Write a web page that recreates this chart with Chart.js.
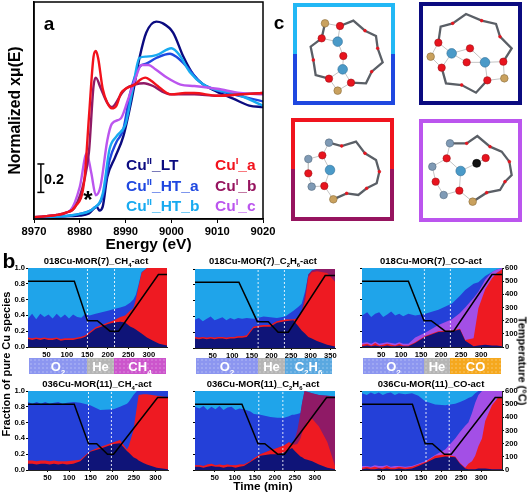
<!DOCTYPE html>
<html>
<head>
<meta charset="utf-8">
<script src="https://cdn.jsdelivr.net/npm/chart.js@4"></script>
<style>
  html, body { margin: 0; padding: 0; background: #fff; }
  #page { position: relative; width: 529px; height: 495px; overflow: hidden; font-family: "Liberation Sans", Arial, sans-serif; font-weight: bold; color: #000; }
  canvas { position: absolute; }
  .t { position: absolute; white-space: nowrap; transform: translate(-50%, -50%); line-height: 1; }
  .l { position: absolute; white-space: nowrap; transform: translateY(-50%); line-height: 1; font-size: 15.5px; }
  sup, sub { font-size: .62em; line-height: 0; }
  .box { position: absolute; box-sizing: border-box; border: 4px solid; background: #fff; }
  .gas { position: absolute; top: 358px; height: 16px; line-height: 17px; color: #fff; font-size: 13px; text-align: center;
         background-image: radial-gradient(rgba(255,255,255,.25) .6px, transparent .9px); background-size: 4px 4px; }
</style>
</head>
<body>
<div id="page">
  <!-- panel c frames sit under the structure canvas -->
  <div class="box" style="left:293px;top:3px;width:102px;height:102px;border-color:#22b8f5 #22b8f5 #1f48e0 #22b8f5;border-image:linear-gradient(#22b8f5 50%,#1f48e0 50%) 1"></div>
  <div class="box" style="left:419px;top:2px;width:103px;height:103px;border-color:#0b0b80"></div>
  <div class="box" style="left:291px;top:118px;width:103px;height:103px;border-image:linear-gradient(#f0141e 50%,#96145f 50%) 1"></div>
  <div class="box" style="left:419px;top:119px;width:103px;height:103px;border-color:#bb55ee"></div>
</div>
<script>
// Panel a: XANES spectra, energy in eV and normalized absorption
const energyTicks = [8970, 8980, 8990, 9000, 9010, 9020];
const ltE = [8970,8975,8978,8980,8982,8983.7,8984.3,8985,8986,8987.7,8989.5,8991.3,8993.1,8994.5,8996.7,8998,9000.4,9002.6,9004.8,9007,9009.9,9013.5,9017,9020];
const ltY = [.012,.017,.021,.024,.04,.088,.06,.088,.30,.44,.59,.85,1.16,1.33,1.41,1.40,1.33,1.16,1.03,.96,.91,.86,.81,.80];
const htaE = [8970,8975,8980,8983,8985,8986.5,8988,8989.5,8991,8993.1,8994.5,8996.7,8999.7,9001,9003.3,9006.2,9009.9,9013.5,9020];
const htaY = [.012,.017,.036,.076,.16,.42,.55,.64,.90,1.09,1.11,1.15,1.18,1.16,1.09,.98,.92,.89,.84];
const htbE = [8970,8975,8980,8983,8985,8986.5,8988,8990,8991.5,8993,8994.5,8996.7,9000,9001.8,9004,9007,9009.9,9013.5,9020];
const htbY = [.012,.017,.036,.076,.18,.50,.59,.68,.92,1.15,1.16,1.17,1.22,1.17,1.05,.96,.92,.90,.81];
const cucE = [8970,8975,8978,8980,8981.5,8982.5,8983.5,8984.5,8986,8987,8989,8990.5,8992,8993.5,8995,8996.5,8999,9002,9005,9010,9015,9020];
const cucY = [.012,.029,.064,.23,.47,.33,.17,.23,.56,.68,.72,.85,.99,1.10,1.10,1.07,1.01,.96,.95,.93,.90,.89];
const cubE = [8970,8975,8977,8979,8981,8982,8983,8983.5,8984.5,8986,8987,8989,8990,8992,8994,8996,8998,9000,9003,9005,9010,9015,9020];
const cubY = [.012,.029,.045,.088,.28,.48,.95,1.01,.94,.83,.80,.89,.93,.96,.97,.95,.91,.89,.89,.89,.88,.89,.90];
const cuaE = [8970,8975,8977,8979,8981,8982,8983,8983.5,8984,8985,8986,8987,8988,8989,8990,8992,8993,8994.3,8995.5,8997,8999,9000,9003,9005,9010,9015,9020];
const cuaY = [.012,.029,.045,.088,.28,.73,1.16,1.20,1.15,.93,.83,.79,.81,.90,.93,.96,.99,1.01,.99,.95,.90,.89,.90,.90,.88,.89,.90];
const scaleBarY = [.19, .393];

// Panel b: top edge of each species band (fraction of pure Cu species) against time in min
const tempC = [500, 500, 200, 200, 120, 120, 550, 550];
const timeTicks = [50, 100, 150, 200, 250, 300];
const timeTicksLong = [50, 100, 150, 200, 250, 300, 350];

const b1Time = [5,15,25,35,45,55,65,75,85,95,105,115,125,135,145,155,170,185,200,215,230,242,254,262,268,274,282,295,310,325,344];
const b1Navy = [.10,.09,.10,.09,.10,.09,.09,.10,.08,.09,.09,.09,.10,.11,.13,.17,.23,.26,.29,.31,.32,.31,.26,.24,.22,.20,.17,.12,.08,.04,.02];
const b1Red = [.12,.11,.12,.11,.12,.11,.11,.12,.10,.11,.11,.11,.12,.13,.15,.19,.25,.28,.31,.34,.38,.40,.46,.49,.60,.75,.94,1,1,1,1];
const b1Blue = [.36,.42,.35,.42,.38,.41,.36,.42,.37,.41,.36,.41,.38,.37,.42,.40,.42,.44,.46,.48,.50,.52,.56,.60,.66,.78,.95,1,1,1,1];
const b1TempTime = [5,118,150,174,205,226,323,344];
const b1Marks = [150, 216];

const b2Time = [5,15,25,35,45,55,65,75,85,95,105,115,125,137,154,164,180,197,214,235,256,268,277,286,294,303,316,342,362];
const b2Navy = [.12,.11,.12,.11,.12,.11,.12,.12,.11,.12,.12,.13,.13,.14,.25,.26,.27,.27,.32,.34,.35,.28,.22,.18,.14,.12,.09,.04,.02];
const b2Red = [.14,.13,.14,.13,.14,.13,.14,.14,.13,.14,.14,.15,.15,.16,.27,.28,.29,.29,.34,.36,.36,.38,.45,.60,.90,.96,.97,.95,.84];
const b2Magenta = [.14,.13,.14,.13,.14,.13,.14,.14,.13,.14,.14,.15,.15,.16,.27,.28,.29,.29,.34,.36,.36,.38,.47,.68,.93,.98,1,1,1];
const b2Blue = [.36,.38,.34,.37,.40,.35,.37,.39,.35,.38,.36,.38,.37,.38,.37,.38,.40,.39,.38,.40,.47,.52,.56,.72,.93,.98,1,1,1];
const b2TempTime = [5,117,164,192,217,243,337,362];
const b2Marks = [166, 233];

const b3Time = [2,15,25,35,45,55,65,75,85,95,105,118,135,160,193,227,247,260,281,293,310,327,339,352];
const b3Navy = [.01,.02,.01,.02,.01,.01,.02,.01,.01,.02,.01,.01,.05,.13,.19,.20,.22,.08,.01,.02,.03,.02,.02,.01];
const b3Red = [.03,.04,.02,.05,.02,.03,.04,.03,.02,.04,.02,.02,.06,.14,.20,.21,.23,.09,.11,.49,.73,.87,.94,.98];
const b3Purple = [.05,.06,.04,.07,.04,.05,.06,.05,.04,.06,.04,.04,.12,.18,.28,.35,.43,.50,.62,.70,.85,.95,.98,1];
const b3Blue = [.40,.44,.38,.42,.44,.38,.41,.45,.40,.42,.39,.42,.40,.42,.47,.55,.65,.72,.80,.82,.90,.95,.98,1];
const b3TempTime = [2,118,157,175,210,231,327,352];
const b3Marks = [158, 223];

const b4Time = [5,15,25,35,45,55,65,75,85,95,110,126,149,172,203,218,234,238,249,257,261,272,280,303,329];
const b4Navy = [.08,.08,.07,.08,.08,.07,.08,.07,.08,.07,.08,.11,.23,.27,.33,.34,.24,.22,.16,.14,.12,.09,.07,.03,.01];
const b4Red = [.12,.12,.11,.12,.12,.11,.12,.11,.11,.11,.12,.13,.24,.29,.35,.38,.26,.30,.50,.80,.95,.96,.96,.94,.92];
const b4Blue = [.86,.84,.86,.84,.86,.84,.85,.86,.84,.85,.86,.85,.82,.76,.77,.80,.84,.86,.95,1,1,1,1,1,1];
const b4TempTime = [5,112,145,164,189,203,305,329];
const b4Marks = [145, 198];

const b5Time = [1,12,22,32,42,52,62,72,82,92,102,112,123,139,148,164,189,206,223,235,243,248,256,264,268,274,281,293,310,331,350];
const b5Navy = [.04,.04,.03,.04,.05,.04,.04,.03,.04,.04,.03,.04,.05,.10,.13,.18,.20,.20,.22,.26,.28,.25,.21,.17,.16,.14,.13,.11,.07,.03,.01];
const b5Red = [.06,.06,.05,.07,.08,.06,.07,.06,.07,.06,.06,.07,.07,.11,.15,.20,.25,.28,.31,.35,.33,.32,.33,.40,.47,.55,.62,.65,.55,.35,.05];
const b5Magenta = [.06,.06,.05,.07,.08,.06,.07,.06,.07,.06,.06,.07,.07,.11,.15,.20,.25,.28,.31,.35,.33,.36,.50,.72,.85,1,.99,.97,.95,.94,.93];
const b5Blue = [.80,.78,.81,.76,.80,.77,.81,.76,.79,.80,.76,.78,.77,.74,.71,.70,.67,.66,.66,.68,.70,.70,.71,.72,.85,1,.99,.97,.95,.94,.93];
const b5TempTime = [1,118,158,175,207,224,329,350];
const b5Marks = [160, 220];

const b6Time = [2,14,24,34,44,54,64,74,84,94,110,127,143,160,185,210,235,247,260,268,277,285,293,302,310,327,343,352];
const b6Navy = [.01,.02,.01,.01,.02,.01,.02,.01,.01,.02,.01,.02,.05,.09,.15,.17,.16,.08,.02,.01,.01,.01,.02,.02,.02,.01,.01,.01];
const b6Red = [.03,.04,.03,.04,.03,.03,.05,.03,.03,.04,.03,.04,.07,.10,.18,.20,.17,.09,.03,.08,.11,.18,.30,.40,.62,.82,.92,.92];
const b6Purple = [.05,.05,.04,.06,.05,.05,.06,.04,.05,.05,.04,.05,.08,.11,.19,.26,.40,.48,.56,.60,.72,.85,.95,1,1,1,1,1];
const b6Blue = [.97,.95,.98,.96,.98,.95,.97,.98,.95,.97,.96,.97,.94,.87,.83,.82,.84,.86,.89,.91,.93,.97,1,1,1,1,1,1];
const b6TempTime = [2,128,160,178,208,225,335,352];
const b6Marks = [162, 220];

// Panel c: ball and stick structures, on a 777 x 750 grid
const ringPaths = [
  [210,78],[250,62],[285,92],[318,108],[323,145],[338,187],[305,215],[288,250],[243,248], null,
  [165,70],[155,115],[122,140],[130,180],[137,225],[177,236], null,
  [505,128],[512,80],[548,70],[588,42],[635,62],[678,72],[690,110],[725,145],[700,185], null,
  [515,203],[528,250],[575,255],[618,278],[652,241], null,
  [177,428],[215,438],[258,425],[285,460],[318,480],[328,515],[320,550],[290,565],[265,585],[230,580],[190,598], null,
  [540,430],[590,430],[622,408],[660,440],[695,455],[718,485],[725,525],[705,545],[690,570],[650,578],[608,605]
];
const ringOxygens = [[285,92],[323,145],[305,215],[130,180],[548,70],[635,62],[690,110],[575,255],[215,438],[285,460],[328,515],[290,565],[230,580],[590,430],[660,440],[718,485],[705,545],[650,578]];
const bondPaths = [
  [165,70],[210,78],[203,125],[155,115],[165,70], null, [203,125],[220,168],[218,208],[177,236],[203,272],[243,248],[218,208], null,
  [505,128],[482,170],[515,203],[545,160],[505,128], null, [545,160],[600,145],[645,187],[590,187],[545,160], null,
  [645,187],[700,185],[703,235],[652,241],[645,187], null,
  [177,428],[157,466],[115,477],[115,520],[125,560],[163,558],[190,598], null, [157,466],[180,510],[163,558], null,
  [540,430],[530,475],[487,500],[497,545],[521,585],[568,572],[608,605], null, [530,475],[572,513],[568,572], null, [572,513],[620,490],[647,474]
];
const cuAtoms = [[203,125],[218,208],[545,160],[645,187],[180,510],[572,513]];
const oAtoms = [[210,78],[155,115],[220,168],[177,236],[243,248],[505,128],[515,203],[600,145],[590,187],[700,185],[652,241],[157,466],[115,520],[163,558],[530,475],[497,545],[568,572],[647,474]];
const alAtoms = [[165,70],[203,272],[482,170],[703,235],[190,598],[608,605]];
const siAtoms = [[177,428],[115,477],[125,560],[540,430],[487,500],[521,585]];
const cAtoms = [[620,490]];

const NAVY = '#0f1478', BLUE = '#2440d8', SKY = '#1fa4ea', RED = '#ee1a22', MAGENTA = '#8f1a66', PURPLE = '#a34fe6';
const FONT = '"Liberation Sans", Arial, sans-serif';
const page = document.getElementById('page');

function addText(cls, x, y, html, style) {
  const d = document.createElement('div');
  d.className = cls;
  d.style.cssText = 'left:' + x + 'px;top:' + y + 'px;' + (style || '');
  d.innerHTML = html;
  page.appendChild(d);
}

function addCanvas(x, y, w, h) {
  const c = document.createElement('canvas');
  c.width = w; c.height = h;
  c.style.cssText = 'left:' + x + 'px;top:' + y + 'px;width:' + w + 'px;height:' + h + 'px';
  page.appendChild(c);
  return c;
}

const zip = (xs, ys) => xs.map((x, i) => ({ x: x, y: ys[i] }));
const points = list => list.map(p => p ? { x: p[0], y: p[1] } : { x: NaN, y: NaN });

// draws the closing top and right edges of the plot box
const framePlugin = {
  id: 'frame',
  afterDatasetsDraw(chart, args, opts) {
    const a = chart.chartArea, g = chart.ctx;
    g.save();
    g.strokeStyle = '#000';
    g.lineWidth = opts.width;
    g.strokeRect(a.left, a.top, a.right - a.left, a.bottom - a.top);
    g.restore();
  }
};

// Panel a chart
function spectrum(xs, ys, color) {
  return { data: zip(xs, ys), borderColor: color, borderWidth: 2.4, pointRadius: 0, tension: 0.35, cubicInterpolationMode: 'monotone' };
}
new Chart(addCanvas(0, 0, 285, 257), {
  type: 'line',
  plugins: [framePlugin],
  data: {
    datasets: [
      { data: [{ x: 8971.5, y: scaleBarY[0] }, { x: 8971.5, y: scaleBarY[1] }], borderColor: '#000', borderWidth: 1.5,
        pointStyle: 'line', pointRadius: 3.5, pointBorderColor: '#000', pointBorderWidth: 1.5 },
      spectrum(cuaE, cuaY, '#f2121c'),
      spectrum(cubE, cubY, MAGENTA),
      spectrum(cucE, cucY, '#bb55ee'),
      spectrum(htbE, htbY, '#18aaf0'),
      spectrum(htaE, htaY, '#1f48e0'),
      spectrum(ltE, ltY, '#0b0b80')
    ]
  },
  options: {
    responsive: false,
    animation: false,
    layout: { autoPadding: false, padding: { top: 2, right: 22 } },
    plugins: { legend: { display: false }, tooltip: { enabled: false }, frame: { width: 1.5 } },
    scales: {
      x: {
        type: 'linear', min: 8970, max: 9020,
        afterBuildTicks: s => { s.ticks = energyTicks.map(v => ({ value: v })); },
        afterFit: s => { s.height = 38; },
        grid: { drawOnChartArea: false, tickLength: 4, tickColor: '#000' },
        border: { color: '#000', width: 1.5 },
        ticks: { color: '#000', font: { family: FONT, size: 11.2, weight: 'bold' }, padding: 2, maxRotation: 0, autoSkip: false, callback: v => String(v) },
        title: { display: true, text: 'Energy (eV)', color: '#000', font: { family: FONT, size: 15.5, weight: 'bold' }, padding: { top: 0, bottom: 2.5 } }
      },
      y: {
        min: 0, max: 1.55,
        afterFit: s => { s.width = 34; },
        grid: { display: false },
        border: { color: '#000', width: 1.5 },
        ticks: { display: false },
        title: { display: true, text: 'Normalized xμ(E)', color: '#000', font: { family: FONT, size: 15.7, weight: 'bold' }, padding: { top: 6.7, bottom: 0 } }
      }
    }
  }
});

addText('t', 49, 23, 'a', 'font-size:19px');
addText('t', 54, 179, '0.2', 'font-size:14.3px');
addText('t', 88, 200, '*', 'font-size:24px');
addText('l', 126, 165, 'Cu<sup>II</sup>_LT', 'color:#0b0b80');
addText('l', 126, 186, 'Cu<sup>II</sup>_HT_a', 'color:#1f48e0');
addText('l', 126, 206, 'Cu<sup>II</sup>_HT_b', 'color:#18aaf0');
addText('l', 215, 165, 'Cu<sup>I</sup>_a', 'color:#f2121c');
addText('l', 215, 186, 'Cu<sup>I</sup>_b', 'color:#96145f');
addText('l', 215, 206, 'Cu<sup>I</sup>_c', 'color:#bb55ee');

// Panel b charts
const bPanels = [
  { title: '018Cu-MOR(7)_CH<sub>4</sub>-act', cx: 96, ty: 261, x0: 28, x1: 167, y0: 268, y1: 347, min: 5, max: 344, left: true, ticks: timeTicks,
    t: b1Time, navy: b1Navy, red: b1Red, blue: b1Blue, tempT: b1TempTime, marks: b1Marks },
  { title: '018Cu-MOR(7)_C<sub>2</sub>H<sub>6</sub>-act', cx: 263, ty: 261, x0: 195, x1: 335, y0: 269, y1: 348, min: 5, max: 362, ticks: timeTicksLong,
    t: b2Time, navy: b2Navy, red: b2Red, magenta: b2Magenta, blue: b2Blue, tempT: b2TempTime, marks: b2Marks },
  { title: '018Cu-MOR(7)_CO-act', cx: 431, ty: 261, x0: 362, x1: 502, y0: 268, y1: 347, min: 2, max: 352, right: true, ticks: timeTicks,
    t: b3Time, navy: b3Navy, red: b3Red, purple: b3Purple, blue: b3Blue, tempT: b3TempTime, marks: b3Marks },
  { title: '036Cu-MOR(11)_CH<sub>4</sub>-act', cx: 97, ty: 384, x0: 28, x1: 168, y0: 391, y1: 470, min: 5, max: 329, left: true, ticks: timeTicks,
    t: b4Time, navy: b4Navy, red: b4Red, blue: b4Blue, tempT: b4TempTime, marks: b4Marks },
  { title: '036Cu-MOR(11)_C<sub>2</sub>H<sub>6</sub>-act', cx: 263, ty: 384, x0: 195, x1: 335, y0: 391, y1: 470, min: 1, max: 350, ticks: timeTicks,
    t: b5Time, navy: b5Navy, red: b5Red, magenta: b5Magenta, blue: b5Blue, tempT: b5TempTime, marks: b5Marks },
  { title: '036Cu-MOR(11)_CO-act', cx: 431, ty: 384, x0: 362, x1: 502, y0: 391, y1: 470, min: 2, max: 352, right: true, ticks: timeTicks,
    t: b6Time, navy: b6Navy, red: b6Red, purple: b6Purple, blue: b6Blue, tempT: b6TempTime, marks: b6Marks }
];

function band(xs, ys, color) {
  return { data: zip(xs, ys), borderWidth: 0, borderColor: color, backgroundColor: color, pointRadius: 0, fill: 'origin', yAxisID: 'y' };
}

bPanels.forEach(p => {
  const mL = p.left ? 24 : 6, mR = 22, mT = 6, mB = 14;
  const w = p.x1 - p.x0, h = p.y1 - p.y0;
  const tickFont = { family: FONT, size: 7.6, weight: 'bold' };
  const datasets = [
    { data: zip(p.tempT, tempC), borderColor: '#000', borderWidth: 1.5, pointRadius: 0, yAxisID: 'y2' }
  ];
  p.marks.forEach(m => {
    datasets.push({ data: [{ x: m, y: 0 }, { x: m, y: 1 }], borderColor: 'rgba(255,255,255,.85)', borderWidth: 1, borderDash: [2, 2], pointRadius: 0, yAxisID: 'y' });
  });
  datasets.push(band(p.t, p.navy, NAVY));
  datasets.push(band(p.t, p.red, RED));
  if (p.magenta) datasets.push(band(p.t, p.magenta, MAGENTA));
  if (p.purple) datasets.push(band(p.t, p.purple, PURPLE));
  datasets.push(band(p.t, p.blue, BLUE));
  datasets.push(band(p.t, p.t.map(() => 1), SKY));

  new Chart(addCanvas(p.x0 - mL, p.y0 - mT, w + mL + mR, h + mT + mB), {
    type: 'line',
    data: { datasets: datasets },
    options: {
      responsive: false,
      animation: false,
      layout: { autoPadding: false, padding: { top: mT, right: p.right ? 0 : mR } },
      plugins: { legend: { display: false }, tooltip: { enabled: false } },
      scales: {
        x: {
          type: 'linear', min: p.min, max: p.max,
          afterBuildTicks: s => { s.ticks = p.ticks.map(v => ({ value: v })); },
          afterFit: s => { s.height = mB; },
          grid: { drawOnChartArea: false, tickLength: 2, tickColor: '#000' },
          border: { color: '#222', width: 1 },
          ticks: { color: '#000', font: tickFont, padding: 1, maxRotation: 0, autoSkip: false }
        },
        y: {
          min: 0, max: 1,
          afterFit: s => { s.width = mL; },
          grid: { drawOnChartArea: false, tickLength: 2, tickColor: '#000' },
          border: { color: '#222', width: 1 },
          ticks: { stepSize: 0.2, color: '#000', font: tickFont, padding: 1,
                   callback: v => p.left ? v.toFixed(1) : '' }
        },
        y2: {
          display: !!p.right, position: 'right', min: 0, max: 600,
          afterFit: s => { s.width = p.right ? mR : 0; },
          grid: { drawOnChartArea: false, tickLength: 2, tickColor: '#000' },
          border: { color: '#222', width: 1 },
          ticks: { stepSize: 100, color: '#000', font: tickFont, padding: 1 }
        }
      }
    }
  });
  addText('t', p.cx, p.ty, p.title, 'font-size:9.5px');
});

addText('t', 9, 260, 'b', 'font-size:21px');
addText('t', 6, 364, 'Fraction of pure Cu species', 'font-size:11px;transform:translate(-50%,-50%) rotate(-90deg)');
addText('t', 522, 361, 'Temperature (°C)', 'font-size:11px;transform:translate(-50%,-50%) rotate(90deg)');
addText('t', 263, 487, 'Time (min)', 'font-size:11.8px');

// gas feed strips, edges in page pixels
const gasStrips = [
  [29, 87, '#8c96f0', 'O<sub>2</sub>'], [87, 114, '#b5b5b5', 'He'], [114, 166, '#cc55cc', 'CH<sub>4</sub>'],
  [196, 258, '#8c96f0', 'O<sub>2</sub>'], [258, 285, '#b5b5b5', 'He'], [285, 332, '#5aa8e0', 'C<sub>2</sub>H<sub>6</sub>'],
  [363, 424, '#8c96f0', 'O<sub>2</sub>'], [424, 450, '#b5b5b5', 'He'], [450, 501, '#f5a81e', 'CO']
];
gasStrips.forEach(g => {
  const d = document.createElement('div');
  d.className = 'gas';
  d.style.left = g[0] + 'px';
  d.style.width = (g[1] - g[0]) + 'px';
  d.style.backgroundColor = g[2];
  d.innerHTML = g[3];
  page.appendChild(d);
});

// Panel c chart
function atoms(list, color, radius, edge) {
  return { type: 'scatter', data: points(list), pointRadius: radius, pointBackgroundColor: color, pointBorderColor: edge, pointBorderWidth: 0.6, showLine: false };
}
new Chart(addCanvas(270, 0, 259, 250), {
  type: 'scatter',
  data: {
    datasets: [
      atoms(cAtoms, '#111', 4, '#000'),
      atoms(oAtoms, '#e8141e', 3.7, '#a01018'),
      atoms(cuAtoms, '#4a9ac8', 4.8, '#2f6f99'),
      atoms(alAtoms, '#c9a15e', 3.8, '#8a6d3c'),
      atoms(siAtoms, '#7f9ab5', 3.8, '#566b80'),
      atoms(ringOxygens, '#e8141e', 1.4, '#e8141e'),
      { data: points(ringPaths), showLine: true, borderColor: '#5a5f66', borderWidth: 2.3, pointRadius: 0, spanGaps: false },
      { data: points(bondPaths), showLine: true, borderColor: '#c4c4c4', borderWidth: 1, pointRadius: 0, spanGaps: false }
    ]
  },
  options: {
    responsive: false,
    animation: false,
    layout: { autoPadding: false },
    plugins: { legend: { display: false }, tooltip: { enabled: false } },
    scales: {
      x: { type: 'linear', min: 0, max: 777, display: false },
      y: { type: 'linear', min: 0, max: 750, reverse: true, display: false }
    }
  }
});
addText('t', 279, 22, 'c', 'font-size:19px');
</script>
</body>
</html>
